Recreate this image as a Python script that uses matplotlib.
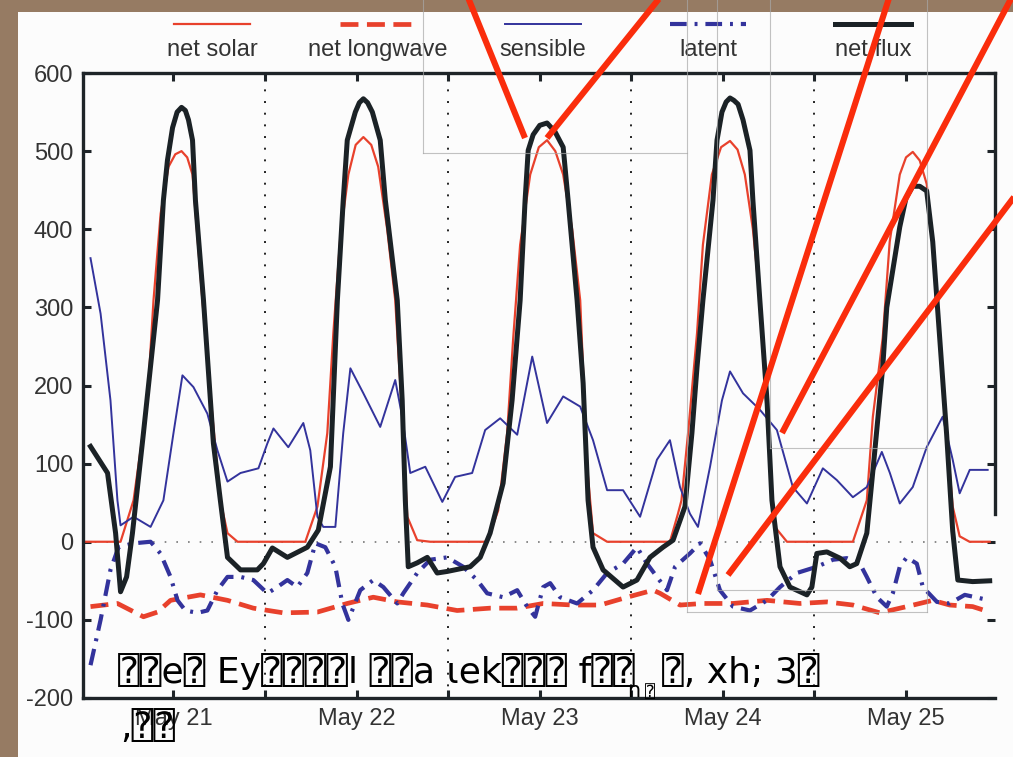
import matplotlib
matplotlib.use("Agg")
import matplotlib.pyplot as plt
from matplotlib.lines import Line2D
from matplotlib.patches import Rectangle

# ---------------------------------------------------------------- data
# time in days of May, flux components in W/m^2
t_solar = [20.509, 20.711, 20.782, 20.858, 20.891, 20.930, 20.973, 21.010, 21.044,
           21.075, 21.104, 21.158, 21.213, 21.256, 21.295, 21.350, 21.720, 21.786,
           21.840, 21.873, 21.911, 21.955, 21.995, 22.037, 22.080, 22.118, 22.167,
           22.211, 22.244, 22.277, 22.331, 22.402, 22.713, 22.773, 22.822, 22.855,
           22.893, 22.948, 22.995, 23.040, 23.085, 23.128, 23.177, 23.221, 23.259,
           23.291, 23.368, 23.711, 23.755, 23.774, 23.810, 23.859, 23.891, 23.940,
           23.990, 24.039, 24.080, 24.120, 24.164, 24.202, 24.257, 24.284, 24.350,
           24.710, 24.786, 24.819, 24.873, 24.911, 24.966, 25.000, 25.037, 25.075,
           25.113, 25.146, 25.184, 25.222, 25.255, 25.293, 25.347, 25.457]
net_solar = [0, 0, 53, 181, 309, 420, 480, 496, 500,
             492, 470, 309, 160, 53, 11, 0, 0, 45,
             139, 267, 390, 470, 508, 518, 508, 480, 400,
             309, 180, 32, 2, 0, 0, 40, 139, 260,
             380, 470, 505, 514, 500, 470, 400, 309, 96,
             11, 0, 0, 36, 53, 139, 267, 380, 470,
             505, 513, 502, 470, 400, 309, 96, 19, 0,
             0, 53, 160, 261, 384, 470, 492, 499, 488,
             458, 384, 261, 137, 45, 7, 0, 0]

t_longwave = [20.547, 20.694, 20.836, 20.913, 20.984, 21.147, 21.295, 21.436, 21.600,
              21.786, 21.949, 22.091, 22.222, 22.386, 22.549, 22.729, 22.877, 23.019,
              23.182, 23.330, 23.477, 23.619, 23.657, 23.766, 23.891, 24.055, 24.241,
              24.421, 24.568, 24.710, 24.857, 25.004, 25.146, 25.239, 25.364, 25.457]
net_longwave = [-83, -79, -96, -90, -75, -68, -75, -85, -91,
                -90, -79, -71, -77, -81, -88, -85, -85, -79,
                -81, -81, -71, -62, -66, -81, -79, -79, -75,
                -79, -77, -81, -91, -83, -75, -81, -83, -90]

t_sensible = [20.547, 20.602, 20.656, 20.694, 20.711, 20.782, 20.875, 20.945, 21.000,
              21.049, 21.109, 21.185, 21.240, 21.295, 21.366, 21.464, 21.513, 21.546,
              21.627, 21.709, 21.747, 21.786, 21.818, 21.884, 21.927, 21.966, 22.037,
              22.129, 22.211, 22.249, 22.293, 22.375, 22.468, 22.538, 22.631, 22.702,
              22.784, 22.877, 22.959, 23.040, 23.128, 23.221, 23.291, 23.368, 23.455,
              23.548, 23.640, 23.711, 23.766, 23.820, 23.864, 23.930, 23.995, 24.039,
              24.110, 24.202, 24.295, 24.382, 24.459, 24.546, 24.622, 24.710, 24.786,
              24.868, 24.912, 24.966, 25.037, 25.113, 25.200, 25.255, 25.293, 25.348,
              25.446]
sensible = [363, 292, 181, 53, 21, 32, 19, 53, 139,
            213, 198, 164, 117, 77, 88, 94, 126, 145,
            121, 152, 117, 32, 19, 19, 139, 222, 190,
            147, 207, 160, 88, 96, 51, 83, 88, 143,
            158, 137, 237, 152, 186, 173, 130, 66, 66,
            32, 105, 130, 70, 36, 19, 96, 181, 218,
            190, 169, 143, 70, 49, 94, 79, 57, 70,
            115, 88, 49, 70, 121, 160, 105, 62, 92,
            92]

t_latent = [20.547, 20.602, 20.656, 20.700, 20.782, 20.875, 20.929, 20.984, 21.022,
            21.065, 21.131, 21.185, 21.240, 21.295, 21.366, 21.436, 21.513, 21.567,
            21.622, 21.676, 21.731, 21.775, 21.829, 21.884, 21.922, 21.955, 22.020,
            22.091, 22.146, 22.222, 22.255, 22.331, 22.402, 22.495, 22.582, 22.658,
            22.713, 22.800, 22.877, 22.931, 22.975, 23.019, 23.057, 23.111, 23.204,
            23.291, 23.368, 23.455, 23.531, 23.586, 23.640, 23.695, 23.739, 23.820,
            23.875, 23.930, 23.984, 24.055, 24.148, 24.241, 24.312, 24.404, 24.513,
            24.601, 24.677, 24.748, 24.786, 24.841, 24.895, 24.928, 24.966, 25.004,
            25.059, 25.092, 25.169, 25.239, 25.321, 25.457]
latent = [-158, -100, -36, -7, -2, 0, -15, -45, -75,
          -88, -91, -88, -62, -45, -45, -49, -66, -58,
          -49, -58, -40, -2, -7, -32, -79, -100, -62,
          -49, -58, -79, -66, -40, -23, -20, -32, -49,
          -66, -71, -62, -83, -96, -58, -53, -71, -79,
          -62, -40, -28, -7, -28, -45, -62, -32, -15,
          -2, -23, -62, -83, -88, -75, -58, -40, -32,
          -23, -21, -28, -45, -71, -83, -66, -32, -20,
          -28, -58, -77, -79, -68, -75]

t_net = [20.547, 20.640, 20.684, 20.711, 20.744, 20.776, 20.836, 20.913, 20.945,
         20.967, 20.995, 21.020, 21.044, 21.065, 21.082, 21.104, 21.120, 21.164,
         21.218, 21.256, 21.295, 21.366, 21.458, 21.491, 21.540, 21.622, 21.731,
         21.791, 21.857, 21.895, 21.927, 21.949, 21.993, 22.015, 22.037, 22.060,
         22.086, 22.129, 22.157, 22.222, 22.249, 22.266, 22.282, 22.331, 22.386,
         22.440, 22.495, 22.620, 22.675, 22.729, 22.800, 22.849, 22.893, 22.920,
         22.937, 22.964, 23.000, 23.040, 23.083, 23.128, 23.155, 23.204, 23.237,
         23.264, 23.291, 23.346, 23.455, 23.531, 23.602, 23.673, 23.728, 23.793,
         23.831, 23.859, 23.891, 23.946, 23.968, 23.995, 24.018, 24.039, 24.060,
         24.083, 24.110, 24.148, 24.164, 24.202, 24.241, 24.268, 24.312, 24.366,
         24.459, 24.486, 24.513, 24.568, 24.639, 24.693, 24.731, 24.786, 24.830,
         24.873, 24.895, 24.966, 25.000, 25.037, 25.075, 25.113, 25.146, 25.184,
         25.222, 25.255, 25.283, 25.364, 25.457]
net_flux = [122, 88, 11, -64, -45, 11, 139, 309, 437,
            488, 530, 550, 556, 552, 540, 514, 437, 309,
            126, 53, -20, -36, -36, -28, -8, -20, -7,
            15, 96, 309, 437, 514, 550, 562, 567, 562,
            550, 514, 437, 309, 181, 53, -32, -27, -20,
            -40, -38, -32, -20, 11, 75, 181, 309, 437,
            501, 521, 533, 536, 525, 505, 437, 309, 203,
            53, -7, -36, -58, -49, -20, -7, 2, 45,
            139, 224, 309, 437, 514, 550, 563, 568, 565,
            560, 540, 501, 437, 309, 181, 53, -32, -58,
            -68, -58, -15, -13, -21, -32, -28, 11, 117,
            224, 300, 403, 440, 455, 455, 449, 384, 261,
            137, 14, -49, -51, -50]

day_ticks = [21, 22, 23, 24, 25]
day_labels = ["May 21", "May 22", "May 23", "May 24", "May 25"]
midnights = [21.5, 22.5, 23.5, 24.5]
series_names = ["net solar", "net longwave", "sensible", "latent", "net flux"]

# ---------------------------------------------------------------- styles
W, H = 1013, 757
RED = "#e8412c"
BLUE = "#33339c"
DARK = "#1b2226"
TXT = "#333333"
styles = {
    "net solar":    dict(color=RED, lw=1.6, ls="-"),
    "net longwave": dict(color=RED, lw=3.4, ls=(0, (3.8, 1.8))),
    "sensible":     dict(color=BLUE, lw=1.4, ls="-"),
    "latent":       dict(color=BLUE, lw=3.0, ls=(0, (4.0, 1.9, 0.7, 1.9))),
    "net flux":     dict(color=DARK, lw=3.6, ls="-"),
}
series = {
    "net solar": (t_solar, net_solar),
    "net longwave": (t_longwave, net_longwave),
    "sensible": (t_sensible, sensible),
    "latent": (t_latent, latent),
    "net flux": (t_net, net_flux),
}


def fig_xy(px, py):
    """pixel position (origin top-left) -> figure fraction"""
    return px / W, 1 - py / H


plt.rcParams["font.family"] = ["Liberation Sans", "DejaVu Sans"]
plt.rcParams["axes.unicode_minus"] = False

fig = plt.figure(figsize=(W / 100, H / 100), dpi=100, facecolor="#967b63")
# white sheet on the brown board
fig.patches.append(Rectangle(fig_xy(18, 757), (W - 18) / W, (757 - 12) / H,
                             transform=fig.transFigure, facecolor="#fcfcfc",
                             edgecolor="none", zorder=-10))

x0, y0 = fig_xy(83, 698)
x1, y1 = fig_xy(995, 73)
ax = fig.add_axes([x0, y0, x1 - x0, y1 - y0])
ax.set_facecolor("none")

ax.set_xlim(20.506, 25.486)
ax.set_ylim(-200, 600)

for m in midnights:
    ax.axvline(m, color="#222222", lw=1.4, ls=(0, (1, 5)), zorder=1)
ax.axhline(0, color="#777777", lw=1.2, ls=(0, (1, 6)), zorder=1)

for name in series_names:
    t, v = series[name]
    st = styles[name]
    ax.plot(t, v, color=st["color"], lw=st["lw"], ls=st["ls"],
            solid_joinstyle="round", zorder=2)

ax.set_xticks(day_ticks)
ax.set_xticklabels(day_labels)
ax.set_xticks(midnights, minor=True)
ax.set_yticks(range(-200, 601, 100))
ax.tick_params(which="both", direction="in", length=6, width=2.2,
               top=True, right=True, color="#1e2428")
ax.tick_params(which="major", labelsize=17, labelcolor=TXT, pad=7)
for side in ["left", "right", "top", "bottom"]:
    ax.spines[side].set_linewidth(2.4)
    ax.spines[side].set_color("#1e2428")
ax.spines["right"].set_bounds(35, 600)

# legend row above the axes: handle on top, label beneath
centers = [212, 378, 543, 708, 873]
for cx, name in zip(centers, series_names):
    st = styles[name]
    xa, ya = fig_xy(cx - 38, 24)
    xb, _ = fig_xy(cx + 38, 24)
    fig.add_artist(Line2D([xa, xb], [ya, ya], transform=fig.transFigure,
                          color=st["color"], lw=st["lw"], ls=st["ls"]))
    lx, ly = fig_xy(cx, 50)
    fig.text(lx, ly, name, fontsize=17, color=TXT, ha="center", va="center")

# faint edges of pasted screenshot panels
panel_edges = [((423, 0), (423, 153)), ((423, 153), (687, 153)),
               ((687, 0), (687, 612)), ((717, 0), (717, 590)),
               ((770, 0), (770, 448)), ((927, 0), (927, 612)),
               ((770, 448), (927, 448)), ((717, 590), (927, 590)),
               ((687, 612), (927, 612))]
for (ax_, ay_), (bx_, by_) in panel_edges:
    pa, pb = fig_xy(ax_, ay_), fig_xy(bx_, by_)
    fig.add_artist(Line2D([pa[0], pb[0]], [pa[1], pb[1]], transform=fig.transFigure,
                          color="#a8a8a8", lw=0.8, alpha=0.7, zorder=4))

# red pointer strokes
pointers = [((467, -5), (525, 138)), ((662, -5), (547, 138)),
            ((890, -5), (698, 594)), ((1013, -5), (782, 433)),
            ((1030, 176), (728, 575))]
for (ax_, ay_), (bx_, by_) in pointers:
    pa, pb = fig_xy(ax_, ay_), fig_xy(bx_, by_)
    fig.add_artist(Line2D([pa[0], pb[0]], [pa[1], pb[1]], transform=fig.transFigure,
                          color="#fa2d0c", lw=4.4, solid_capstyle="butt", zorder=10))

# caption overprinted in the lower part of the plot
cap_font = ["DejaVu Sans", "DejaVu Sans Mono"]
fig.text(*fig_xy(118, 683), "⍰⍰e⍰ Ey⍰⍰⍰⍰l ⍰⍰a ɩek⍰⍰⍰ f⍰⍰", fontsize=26,
         family=cap_font, color="black", va="baseline", zorder=8)
fig.text(*fig_xy(627, 697), "n", fontsize=15, family=cap_font, color="black",
         va="baseline", zorder=8)
fig.text(*fig_xy(645, 697), "⍰", fontsize=12, family=cap_font, color="black",
         va="baseline", zorder=8)
fig.text(*fig_xy(662, 683), "⍰, xh; 3⍰", fontsize=26,
         family=cap_font, color="black", va="baseline", zorder=8)
fig.text(*fig_xy(120, 738), ",⍰⍰", fontsize=26,
         family=cap_font, color="black", va="baseline", zorder=8)

fig.savefig("out.png", dpi=100, facecolor=fig.get_facecolor())
